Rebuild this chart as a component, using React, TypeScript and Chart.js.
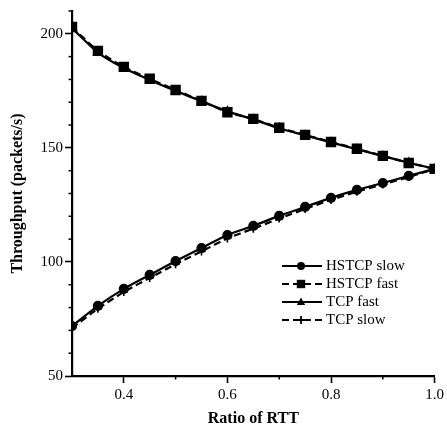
import React, { useEffect, useRef } from "react";
import { Chart, registerables } from "chart.js";

Chart.register(...registerables);

const ratios = [0.3, 0.35, 0.4, 0.45, 0.5, 0.55, 0.6, 0.65, 0.7, 0.75, 0.8, 0.85, 0.9, 0.95, 1.0];
const hstcpSlow = [71.9, 80.7, 88.2, 94.3, 100.4, 106.1, 111.8, 115.8, 120.2, 124.1, 128.1, 131.6, 134.6, 137.7, 140.8];
const hstcpFast = [203.0, 192.5, 185.5, 180.3, 175.4, 170.6, 165.6, 162.7, 158.8, 155.7, 152.6, 149.6, 146.5, 143.4, 140.8];
const tcpFast = [202.5, 191.8, 185.0, 179.8, 175.0, 170.4, 166.0, 162.5, 158.6, 155.5, 152.4, 149.4, 146.4, 143.5, 140.8];
const tcpSlow = [71.0, 79.5, 86.8, 93.0, 99.0, 104.6, 110.3, 114.6, 119.0, 123.2, 127.2, 130.8, 134.0, 137.2, 140.8];

const seriesNames = ["HSTCP slow", "HSTCP fast", "TCP fast", "TCP slow"];
const yMajorTicks = [50, 100, 150, 200];
const xMajorTicks = [0.4, 0.6, 0.8, 1.0];

const FONT = "'Liberation Serif', 'Times New Roman', serif";

const toPts = (ys: number[]) => ratios.map((x, i) => ({ x, y: ys[i] }));

function drawMarker(ctx: CanvasRenderingContext2D, style: string, x: number, y: number) {
  ctx.save();
  ctx.fillStyle = "#000";
  ctx.strokeStyle = "#000";
  ctx.setLineDash([]);
  ctx.beginPath();
  if (style === "circle") {
    ctx.arc(x, y, 4, 0, Math.PI * 2);
    ctx.fill();
  } else if (style === "rect") {
    ctx.rect(x - 4.2, y - 4.2, 8.4, 8.4);
    ctx.fill();
  } else if (style === "triangle") {
    ctx.moveTo(x, y - 4.5);
    ctx.lineTo(x + 4.2, y + 3);
    ctx.lineTo(x - 4.2, y + 3);
    ctx.closePath();
    ctx.fill();
  } else {
    ctx.lineWidth = 1.8;
    ctx.moveTo(x - 4, y);
    ctx.lineTo(x + 4, y);
    ctx.moveTo(x, y - 4);
    ctx.lineTo(x, y + 4);
    ctx.stroke();
  }
  ctx.restore();
}

const legendStyles = [
  { dash: [] as number[], marker: "circle" },
  { dash: [7, 4], marker: "rect" },
  { dash: [] as number[], marker: "triangle" },
  { dash: [7, 4], marker: "cross" },
];

const customPlugin = {
  id: "custom",
  afterDraw(chart: any) {
    const ctx = chart.ctx as CanvasRenderingContext2D;
    const xs = chart.scales.x;
    const ys = chart.scales.y;
    const area = chart.chartArea;
    ctx.save();
    ctx.strokeStyle = "#000";
    ctx.lineWidth = 1.5;
    for (let v = 60; v <= 210; v += 10) {
      if (v % 50 === 0) continue;
      const py = ys.getPixelForValue(v);
      ctx.beginPath();
      ctx.moveTo(area.left - 3.5, py);
      ctx.lineTo(area.left, py);
      ctx.stroke();
    }
    for (let k = 5; k <= 9; k += 2) {
      const px = xs.getPixelForValue(k / 10);
      ctx.beginPath();
      ctx.moveTo(px, area.bottom);
      ctx.lineTo(px, area.bottom + 3.5);
      ctx.stroke();
    }
    const lx = area.left + 210;
    const ly0 = area.top + 255;
    const step = 18;
    ctx.font = "15px " + FONT;
    ctx.fillStyle = "#000";
    ctx.textBaseline = "middle";
    ctx.textAlign = "left";
    legendStyles.forEach((s, i) => {
      const y = ly0 + i * step;
      ctx.save();
      ctx.lineWidth = 2;
      ctx.setLineDash(s.dash);
      ctx.beginPath();
      ctx.moveTo(lx, y);
      ctx.lineTo(lx + 40, y);
      ctx.stroke();
      ctx.restore();
      drawMarker(ctx, s.marker, lx + 19, y);
      ctx.fillText(seriesNames[i], lx + 44, y);
    });
    ctx.restore();
  },
};

export default function App() {
  const ref = useRef<HTMLCanvasElement>(null);
  useEffect(() => {
    if (!ref.current) return;
    const common = {
      borderColor: "#000",
      backgroundColor: "#000",
      pointBackgroundColor: "#000",
      pointBorderColor: "#000",
      borderWidth: 2.2,
      tension: 0.2,
      fill: false,
    };
    const chart = new Chart(ref.current, {
      type: "line",
      data: {
        datasets: [
          { ...common, label: seriesNames[0], data: toPts(hstcpSlow), pointStyle: "circle", pointRadius: 4 },
          { ...common, label: seriesNames[1], data: toPts(hstcpFast), pointStyle: "rect", pointRadius: 5.8, borderDash: [7, 4] },
          { ...common, label: seriesNames[2], data: toPts(tcpFast), pointStyle: "triangle", pointRadius: 4 },
          { ...common, label: seriesNames[3], data: toPts(tcpSlow), pointStyle: "cross", pointRadius: 4, pointBorderWidth: 1.6, borderDash: [7, 4] },
        ] as any,
      },
      options: {
        animation: false,
        responsive: true,
        maintainAspectRatio: false,
        layout: { padding: { top: 10, right: 10, left: 0, bottom: 0 } },
        plugins: { legend: { display: false }, tooltip: { enabled: false } },
        scales: {
          x: {
            type: "linear",
            min: 0.3,
            max: 1.0,
            afterFit: (s: any) => { s.height = 53; },
            afterBuildTicks: (s: any) => { s.ticks = xMajorTicks.map((v) => ({ value: v })); },
            ticks: {
              color: "#000",
              font: { family: FONT, size: 15 },
              padding: 3,
              maxRotation: 0,
              callback: (v: any) => Number(v).toFixed(1),
            },
            grid: { drawOnChartArea: false, drawTicks: true, tickLength: 7, tickColor: "#000", tickWidth: 1.6 },
            border: { display: true, color: "#000", width: 2.2 },
            title: {
              display: true,
              text: "Ratio of RTT",
              color: "#000",
              font: { family: FONT, size: 16, weight: "bold" },
              padding: { top: 0, bottom: 1 },
            },
          },
          y: {
            type: "linear",
            min: 50,
            max: 210,
            afterFit: (s: any) => { s.width = 72; },
            afterBuildTicks: (s: any) => { s.ticks = yMajorTicks.map((v) => ({ value: v })); },
            ticks: {
              color: "#000",
              font: { family: FONT, size: 15 },
              padding: 2,
              callback: (v: any) => String(v),
            },
            grid: { drawOnChartArea: false, drawTicks: true, tickLength: 7, tickColor: "#000", tickWidth: 1.6 },
            border: { display: true, color: "#000", width: 2.2 },
            title: {
              display: true,
              text: "Throughput (packets/s)",
              color: "#000",
              font: { family: FONT, size: 16, weight: "bold" },
              padding: { top: 8, bottom: 0 },
            },
          },
        },
      },
      plugins: [customPlugin],
    });
    return () => chart.destroy();
  }, []);
  return (
    <div style={{ position: "fixed", left: 0, top: 0, width: 447, height: 429, background: "#fff" }}>
      <canvas ref={ref} />
    </div>
  );
}
